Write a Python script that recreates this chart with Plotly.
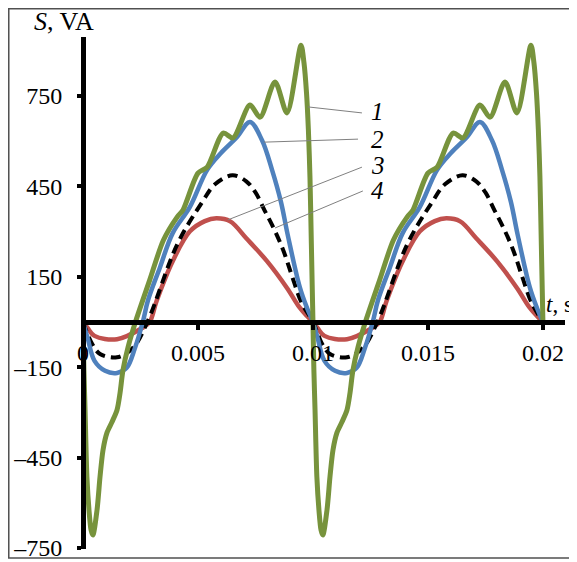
import plotly.graph_objects as go

# ---------------- data ----------------
t_green = [0, 0.00004, 0.00009, 0.00017, 0.00026, 0.00035, 0.00043, 0.00061, 0.00074, 0.00087,
           0.00104, 0.00126, 0.00148, 0.00161, 0.00174, 0.00196, 0.00228, 0.0029, 0.0035, 0.0041,
           0.00435, 0.005, 0.0054, 0.0061, 0.00652, 0.00726, 0.0077, 0.00835, 0.00887, 0.00948,
           0.00961, 0.00972, 0.0098, 0.00987, 0.00993, 0.00997,
           0.01, 0.01004, 0.01009, 0.01017, 0.01026, 0.01035, 0.01043, 0.01061, 0.01074, 0.01087,
           0.01104, 0.01126, 0.01148, 0.01161, 0.01174, 0.01196, 0.01228, 0.0129, 0.0135, 0.0141,
           0.01435, 0.015, 0.0154, 0.0161, 0.01652, 0.01726, 0.0177, 0.01835, 0.01887, 0.01948,
           0.01961, 0.01972, 0.0198, 0.01987, 0.01993, 0.01997, 0.02]
s_green = [0, -159, -292, -514, -624, -690, -707, -624, -514, -425,
           -368, -332, -292, -236, -159, -83, 0, 139, 272, 349,
           372, 494, 514, 627, 611, 720, 680, 797, 694, 919,
           860, 760, 640, 480, 260, 110,
           0, -159, -292, -514, -624, -690, -707, -624, -514, -425,
           -368, -332, -292, -236, -159, -83, 0, 139, 272, 349,
           372, 494, 514, 627, 611, 720, 680, 797, 694, 919,
           860, 760, 640, 480, 260, 110, 0]

t_blue = [0, 0.0002, 0.0005, 0.00096, 0.00148, 0.0019, 0.00226, 0.0026, 0.00283, 0.00335,
          0.0039, 0.00465, 0.0054, 0.006, 0.0067, 0.00726, 0.00778, 0.00822, 0.00861, 0.0089,
          0.00943, 0.00975,
          0.01, 0.0102, 0.0105, 0.01096, 0.01148, 0.0119, 0.01226, 0.0126, 0.01283, 0.01335,
          0.0139, 0.01465, 0.0154, 0.016, 0.0167, 0.01726, 0.01778, 0.01822, 0.01861, 0.0189,
          0.01943, 0.01975, 0.02]
s_blue = [0, -53, -129, -162, -169, -152, -86, 0, 73, 182,
          295, 382, 505, 561, 614, 664, 604, 505, 398, 290,
          115, 45,
          0, -53, -129, -162, -169, -152, -86, 0, 73, 182,
          295, 382, 505, 561, 614, 664, 604, 505, 398, 290,
          115, 45, 0]

t_black = [0, 0.0004, 0.00074, 0.00148, 0.00217, 0.0028, 0.0041, 0.0052, 0.00574, 0.0065,
           0.0071, 0.0075, 0.0079, 0.0083, 0.0087, 0.0091, 0.0095,
           0.01, 0.0104, 0.01074, 0.01148, 0.01217, 0.0128, 0.0141, 0.0152, 0.01574, 0.0165,
           0.0171, 0.0175, 0.0179, 0.0183, 0.0187, 0.0191, 0.0195, 0.02]
s_black = [0, -73, -106, -117, -86, 0, 258, 400, 457, 487,
           467, 430, 370, 310, 240, 150, 65,
           0, -73, -106, -117, -86, 0, 258, 400, 457, 487,
           467, 430, 370, 310, 240, 150, 65, 0]

t_red = [0, 0.0002, 0.0005, 0.00148, 0.00257, 0.0029, 0.0032, 0.0039, 0.00465, 0.0053,
         0.0058, 0.0064, 0.0071, 0.008, 0.00887, 0.0094, 0.00974,
         0.01, 0.0102, 0.0105, 0.01148, 0.01257, 0.0129, 0.0132, 0.0139, 0.01465, 0.0153,
         0.0158, 0.0164, 0.0171, 0.018, 0.01887, 0.0194, 0.01974, 0.02]
s_red = [0, -20, -46, -57, -20, 0, 70, 202, 301, 335,
         344, 334, 278, 202, 113, 50, 20,
         0, -20, -46, -57, -20, 0, 70, 202, 301, 335,
         344, 334, 278, 202, 113, 50, 20, 0]

x_tickvals = [0, 0.005, 0.01, 0.015, 0.02]
x_ticktext = ["0", "0.005", "0.01", "0.015", "0.02"]
y_tickvals = [-750, -450, -150, 150, 450, 750]
y_ticktext = ["–750", "–450", "–150", "150", "450", "750"]

curve_labels = ["1", "2", "3", "4"]
label_t = [0.012826, 0.012826, 0.012826, 0.012826]
label_s = [700, 607, 521, 435]
# leader lines: (t on curve, S on curve) -> (t near label, S near label)
leader_from_t = [0.00978, 0.00787, 0.0063, 0.00835]
leader_from_s = [714, 597, 339, 312]
leader_to_t = [0.01213, 0.01196, 0.01213, 0.01217]
leader_to_s = [694, 607, 514, 435]

# ---------------- figure ----------------
FONT = "Liberation Serif"
fig = go.Figure()
fig.add_trace(go.Scatter(x=t_red, y=s_red, mode="lines",
                         line=dict(color="#C0504D", width=4.5, shape="spline", smoothing=1.0)))
fig.add_trace(go.Scatter(x=t_black, y=s_black, mode="lines",
                         line=dict(color="black", width=4, dash="10px,6px", shape="spline", smoothing=1.0)))
fig.add_trace(go.Scatter(x=t_blue, y=s_blue, mode="lines",
                         line=dict(color="#4F81BD", width=4.5, shape="spline", smoothing=1.0)))
fig.add_trace(go.Scatter(x=t_green, y=s_green, mode="lines",
                         line=dict(color="#77933C", width=5, shape="spline", smoothing=0.8)))

for i in range(4):
    fig.add_shape(type="line", xref="x", yref="y",
                  x0=leader_from_t[i], y0=leader_from_s[i], x1=leader_to_t[i], y1=leader_to_s[i],
                  line=dict(color="#808080", width=1), layer="above")
    fig.add_annotation(x=label_t[i], y=label_s[i], xref="x", yref="y",
                       text="<i>" + curve_labels[i] + "</i>", showarrow=False,
                       font=dict(family=FONT, size=25, color="black"),
                       xanchor="center", yanchor="middle")

fig.add_annotation(x=-0.1058, y=1.03125, xref="paper", yref="paper", text="<i>S</i>, VA",
                   showarrow=False, xanchor="left", yanchor="middle",
                   font=dict(family=FONT, size=26, color="black"))
fig.add_annotation(x=0.9564, y=0.4766, xref="paper", yref="paper", text="<i>t</i>, s",
                   showarrow=False, xanchor="left", yanchor="middle",
                   font=dict(family=FONT, size=23, color="black"))

# outer frame
fig.add_shape(type="rect", xref="paper", yref="paper", x0=-0.1540, x1=1.031, y0=-0.0176, y1=1.0552,
              line=dict(color="#505050", width=1.5), layer="below")

ymin, ymax = -753.4, 946
# the page body has an 8px margin, so the plot area is placed 8px up/left
fig.update_layout(
    width=577, height=562,
    margin=dict(l=75, r=20, t=29, b=21, pad=0, autoexpand=False),
    paper_bgcolor="white", plot_bgcolor="white",
    showlegend=False,
    font=dict(family=FONT, size=24, color="black"),
    xaxis=dict(range=[0, 0.02096], anchor="free", position=(0 - ymin) / (ymax - ymin),
               showline=True, linewidth=5, linecolor="black", automargin=False,
               ticks="outside", ticklen=5, tickwidth=4, tickcolor="black",
               tickvals=x_tickvals, ticktext=x_ticktext, ticklabelstandoff=2,
               showgrid=False, zeroline=False, tickfont=dict(family=FONT, size=24)),
    yaxis=dict(range=[ymin, ymax], anchor="free", position=0,
               showline=True, linewidth=5, linecolor="black", automargin=False,
               ticks="outside", ticklen=4, tickwidth=4, tickcolor="black",
               tickvals=y_tickvals, ticktext=y_ticktext, ticklabelstandoff=10,
               showgrid=False, zeroline=False, tickfont=dict(family=FONT, size=24)),
)

fig.write_html("out.html")
